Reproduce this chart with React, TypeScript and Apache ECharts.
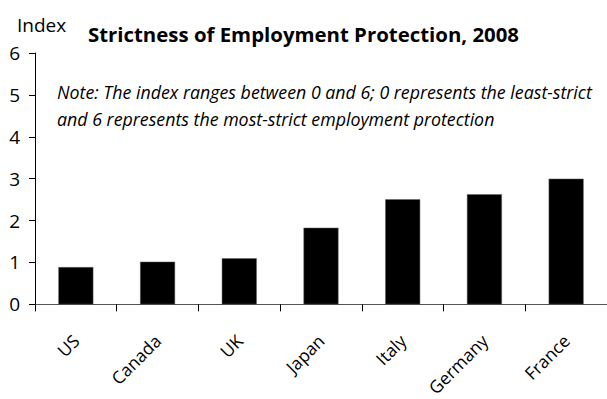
import React, { useEffect, useRef } from "react";
import * as echarts from "echarts";

const categories = ["US", "Canada", "UK", "Japan", "Italy", "Germany", "France"];
const values = [0.89, 1.02, 1.1, 1.83, 2.51, 2.63, 3.0];
const titleText = "Strictness of Employment Protection, 2008";
const noteLines = [
  "Note: The index ranges between 0 and 6; 0 represents the least-strict",
  "and 6 represents the most-strict employment protection",
];
const yAxisName = "Index";

const FONT = "'Open Sans', 'Noto Sans', sans-serif";

export default function App() {
  const ref = useRef<HTMLDivElement>(null);
  useEffect(() => {
    if (!ref.current) return;
    const chart = echarts.init(ref.current, null, { renderer: "svg" });
    chart.setOption({
      animation: false,
      backgroundColor: "#fff",
      textStyle: { fontFamily: FONT, color: "#000" },
      title: [
        {
          text: titleText,
          left: "center",
          top: 20,
          padding: 0,
          textStyle: { fontFamily: FONT, fontSize: 20.4, fontWeight: "bold", color: "#000", lineHeight: 28 },
        },
        {
          text: yAxisName,
          left: 17,
          top: 11,
          padding: 0,
          textStyle: { fontFamily: FONT, fontSize: 19, fontWeight: "normal", color: "#000", lineHeight: 28 },
        },
        {
          text: noteLines.join("\n"),
          left: 57,
          top: 78,
          padding: 0,
          textStyle: {
            fontFamily: FONT,
            fontSize: 17.8,
            fontStyle: "italic",
            fontWeight: "normal",
            color: "#000",
            lineHeight: 27,
          },
        },
      ],
      grid: { left: 35, right: -6, top: 53, bottom: 89, containLabel: false },
      xAxis: {
        type: "category",
        data: categories,
        boundaryGap: true,
        axisLine: { show: true, lineStyle: { color: "#555", width: 1 } },
        axisTick: { show: true, interval: 0, length: 7, lineStyle: { color: "#000" } },
        axisLabel: {
          show: true,
          interval: 0,
          rotate: 45,
          margin: 33,
          fontSize: 17.5,
          fontFamily: FONT,
          color: "#000",
        },
      },
      yAxis: {
        type: "value",
        min: 0,
        max: 6,
        interval: 1,
        splitLine: { show: false },
        axisLine: { show: true, lineStyle: { color: "#000", width: 1 } },
        axisTick: { show: true, length: 6, lineStyle: { color: "#000" } },
        axisLabel: { fontSize: 19, color: "#000", margin: 15, fontFamily: FONT },
      },
      series: [
        {
          type: "bar",
          data: values,
          barWidth: 35,
          itemStyle: { color: "#000", borderColor: "#666", borderWidth: 0.5 },
        },
      ],
    });
    return () => chart.dispose();
  }, []);
  return <div ref={ref} style={{ width: 607, height: 399, position: "absolute", left: 0, top: 0 }} />;
}
